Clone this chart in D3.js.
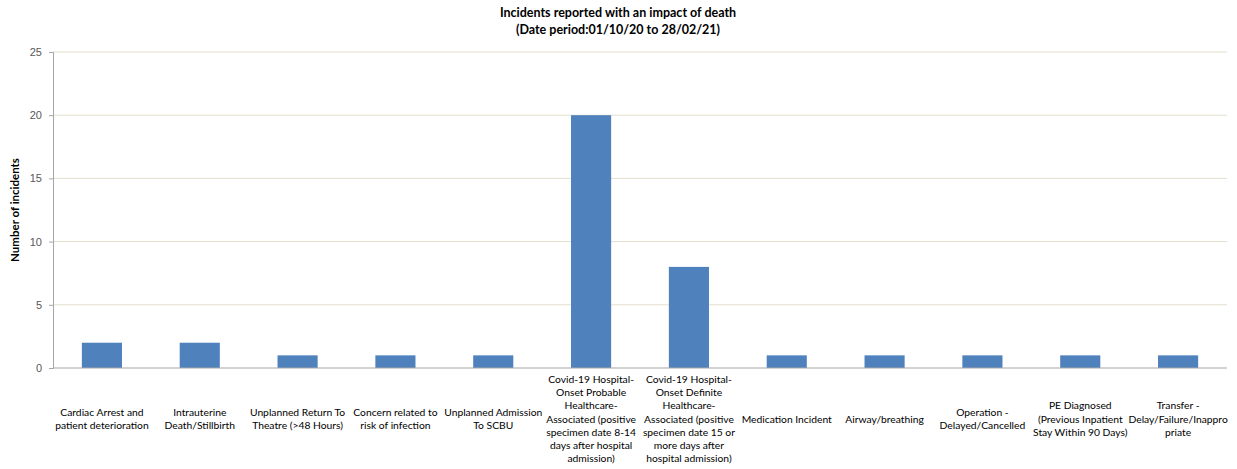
<!DOCTYPE html>
<html lang="en">
  <head>
    <meta charset="UTF-8" />
    <title>Incidents reported with an impact of death</title>
    <style>
      body { margin: 0; background: #fff; font-family: Lato, "Open Sans", sans-serif; }
      .title { font-size: 12.5px; font-weight: bold; fill: #000; }
      .tick-label { font-size: 11px; fill: #595959; }
      .cat-label { font-size: 10.3px; fill: #000; }
      .axis-title { font-size: 11.5px; font-weight: bold; fill: #000; }
    </style>
    <script src="https://d3js.org/d3.v7.min.js"></script>
  </head>
  <body>
    <div id="chart"></div>
    <script>
      // labels keep the line breaks seen in the original chart
      const categories = [
        "Cardiac Arrest and\npatient deterioration",
        "Intrauterine\nDeath/Stillbirth",
        "Unplanned Return To\nTheatre (>48 Hours)",
        "Concern related to\nrisk of infection",
        "Unplanned Admission\nTo SCBU",
        "Covid-19 Hospital-\nOnset Probable\nHealthcare-\nAssociated (positive\nspecimen date 8-14\ndays after hospital\nadmission)",
        "Covid-19 Hospital-\nOnset Definite\nHealthcare-\nAssociated (positive\nspecimen date 15 or\nmore days after\nhospital admission)",
        "Medication Incident",
        "Airway/breathing",
        "Operation -\nDelayed/Cancelled",
        "PE Diagnosed\n(Previous Inpatient\nStay Within 90 Days)",
        "Transfer -\nDelay/Failure/Inappro\npriate",
      ];
      const counts = [2, 2, 1, 1, 1, 20, 8, 1, 1, 1, 1, 1];
      const yTicks = [0, 5, 10, 15, 20, 25];
      const titleLines = [
        "Incidents reported with an impact of death",
        "(Date period:01/10/20 to 28/02/21)",
      ];

      const W = 1237, H = 469;
      const margin = { top: 52, right: 10, bottom: 101, left: 53 };
      const width = W - margin.left - margin.right;
      const height = H - margin.top - margin.bottom;

      const svg = d3.select("#chart").append("svg")
        .attr("width", W).attr("height", H);

      svg.selectAll(".title").data(titleLines).enter().append("text")
        .attr("class", "title")
        .attr("x", 618)
        .attr("y", (d, i) => 17 + i * 17)
        .attr("text-anchor", "middle")
        .text((d) => d);

      const g = svg.append("g")
        .attr("transform", `translate(${margin.left},${margin.top})`);

      const x = d3.scaleBand().domain(categories).range([0, width])
        .paddingInner(0.59).paddingOuter(0.295);
      const y = d3.scaleLinear().domain([0, 25]).range([height, 0]);

      // gridlines
      g.selectAll(".grid").data(yTicks.filter((t) => t > 0)).enter().append("line")
        .attr("x1", 0).attr("x2", width)
        .attr("y1", (d) => y(d)).attr("y2", (d) => y(d))
        .attr("stroke", "#e3dfcc").attr("stroke-width", 1);

      const yAxis = g.append("g")
        .call(d3.axisLeft(y).tickValues(yTicks).tickSize(4).tickPadding(7));
      yAxis.select(".domain").attr("stroke", "#a6a6a6");
      yAxis.selectAll(".tick line").attr("stroke", "#a6a6a6");
      yAxis.selectAll(".tick text").attr("class", "tick-label").attr("fill", null);

      g.selectAll(".bar").data(counts).enter().append("rect")
        .attr("class", "bar")
        .attr("x", (d, i) => x(categories[i]))
        .attr("y", (d) => y(d))
        .attr("width", x.bandwidth())
        .attr("height", (d) => height - y(d))
        .attr("fill", "#4f81bd");

      g.append("line")
        .attr("x1", 0).attr("x2", width)
        .attr("y1", height).attr("y2", height)
        .attr("stroke", "#a6a6a6");

      // category labels, vertically centred under the axis
      const lineH = 13.2;
      const labels = g.selectAll(".cat").data(categories).enter().append("text")
        .attr("class", "cat-label")
        .attr("text-anchor", "middle")
        .attr("transform", (d) => `translate(${x(d) + x.bandwidth() / 2},0)`);
      labels.each(function (d) {
        const lines = d.split("\n");
        const first = height + 51 - ((lines.length - 1) * lineH) / 2 + 3.5;
        d3.select(this).selectAll("tspan").data(lines).enter().append("tspan")
          .attr("x", 0)
          .attr("y", (l, i) => first + i * lineH)
          .text((l) => l);
      });

      svg.append("text")
        .attr("class", "axis-title")
        .attr("transform", `translate(19,${margin.top + height / 2}) rotate(-90)`)
        .attr("text-anchor", "middle")
        .text("Number of incidents");
    </script>
  </body>
</html>
